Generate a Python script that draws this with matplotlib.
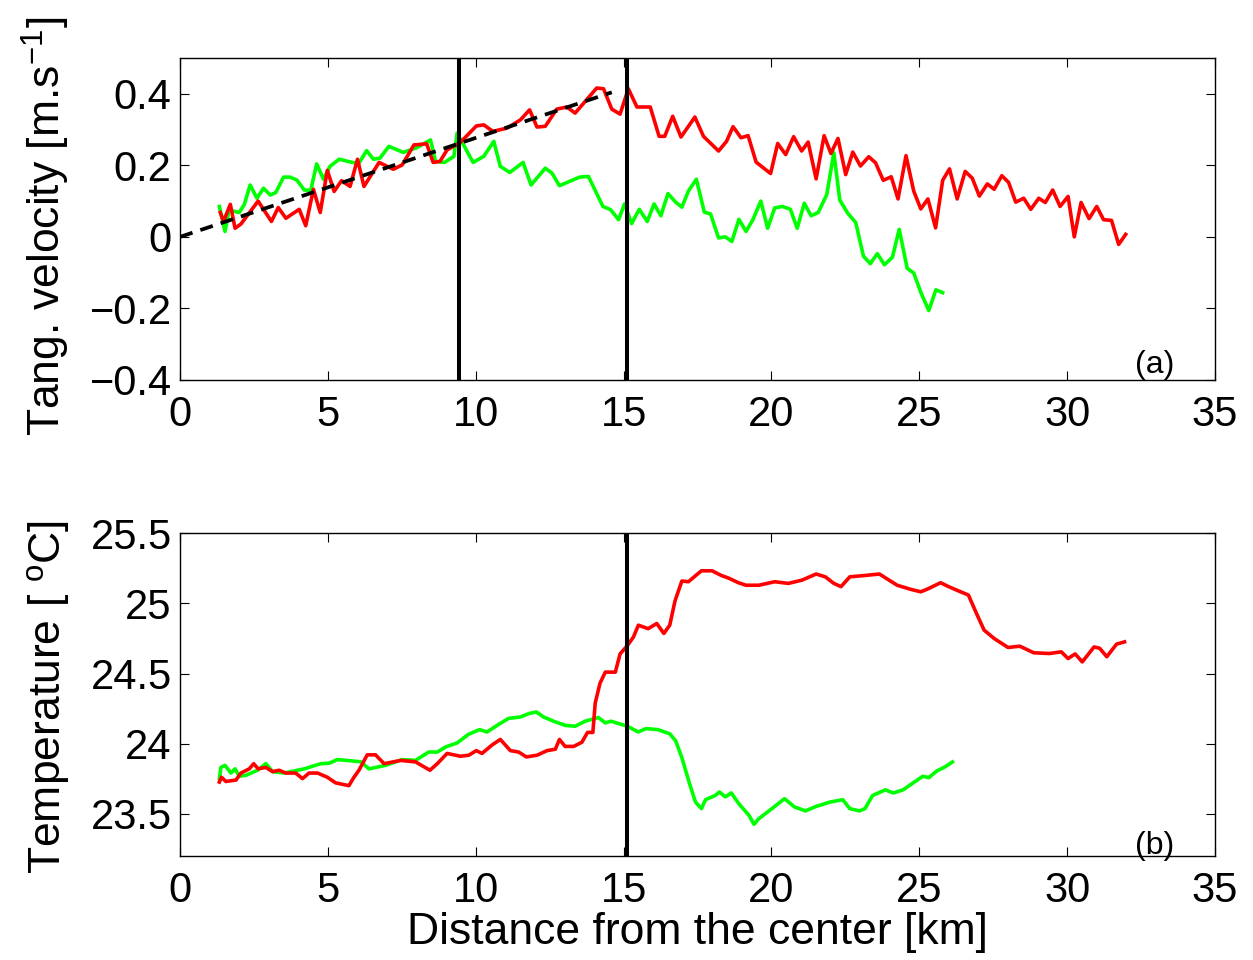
import numpy as np
import matplotlib
matplotlib.use('Agg')
import matplotlib.pyplot as plt

plt.rcParams['font.family'] = ['Liberation Sans', 'DejaVu Sans']
plt.rcParams['mathtext.fontset'] = 'custom'
plt.rcParams['mathtext.rm'] = 'Liberation Sans'
plt.rcParams['mathtext.it'] = 'Liberation Sans'

# (a) tangential velocity, red section
vel_red_x = [1.36, 1.47, 1.70, 1.86, 2.06, 2.64, 3.09, 3.32, 3.58, 4.03, 4.25, 4.51, 4.74, 4.98,
             5.21, 5.46, 5.75, 6.00, 6.22, 6.73, 7.21, 7.51, 7.91, 8.34, 8.56, 8.79, 9.03, 9.48,
             10.02, 10.27, 10.58, 11.06, 11.51, 11.82, 12.07, 12.35, 12.74, 13.08, 13.36, 14.09,
             14.32, 14.60, 14.88, 15.16, 15.45, 15.90, 16.20, 16.39, 16.66, 16.94, 17.41, 17.70,
             18.21, 18.48, 18.70, 18.97, 19.21, 19.48, 19.97, 20.21, 20.48, 20.75, 21.02, 21.24,
             21.51, 21.78, 22.01, 22.25, 22.51, 22.75, 23.01, 23.29, 23.52, 23.78, 24.05, 24.28,
             24.55, 24.81, 25.05, 25.29, 25.55, 25.79, 26.02, 26.28, 26.55, 26.79, 27.03, 27.30,
             27.53, 27.79, 28.02, 28.26, 28.53, 28.77, 29.04, 29.26, 29.51, 29.76, 30.03, 30.24,
             30.47, 30.74, 31.00, 31.23, 31.50, 31.74, 31.98]
vel_red = [0.068, 0.043, 0.091, 0.024, 0.036, 0.100, 0.043, 0.082, 0.052, 0.077, 0.031, 0.133,
           0.068, 0.186, 0.127, 0.157, 0.141, 0.217, 0.141, 0.208, 0.189, 0.201, 0.257, 0.260,
           0.208, 0.211, 0.243, 0.264, 0.310, 0.313, 0.295, 0.304, 0.327, 0.355, 0.307, 0.309,
           0.357, 0.363, 0.346, 0.416, 0.414, 0.357, 0.343, 0.414, 0.363, 0.363, 0.281, 0.281,
           0.337, 0.279, 0.335, 0.281, 0.240, 0.267, 0.308, 0.277, 0.283, 0.209, 0.177, 0.261,
           0.230, 0.280, 0.240, 0.265, 0.162, 0.283, 0.233, 0.275, 0.174, 0.237, 0.198, 0.224,
           0.207, 0.158, 0.168, 0.106, 0.227, 0.128, 0.078, 0.106, 0.025, 0.158, 0.190, 0.106,
           0.183, 0.164, 0.114, 0.148, 0.133, 0.171, 0.152, 0.097, 0.108, 0.077, 0.108, 0.096,
           0.131, 0.085, 0.113, 0.000, 0.096, 0.051, 0.085, 0.048, 0.046, -0.021, 0.007]

# (a) tangential velocity, green section
vel_green_x = [1.33, 1.52, 1.66, 2.00, 2.17, 2.37, 2.60, 2.82, 3.05, 3.24, 3.50, 3.72, 3.95, 4.20,
               4.42, 4.62, 4.85, 5.07, 5.38, 5.83, 6.05, 6.31, 6.54, 6.76, 7.06, 7.55, 8.02, 8.47,
               8.64, 8.94, 9.26, 9.37, 9.91, 10.27, 10.61, 10.83, 11.15, 11.60, 11.87, 12.35,
               12.58, 12.83, 13.51, 13.81, 14.30, 14.56, 14.83, 15.03, 15.27, 15.53, 15.80, 16.03,
               16.26, 16.50, 16.76, 16.97, 17.19, 17.46, 17.73, 17.94, 18.21, 18.44, 18.66, 18.90,
               19.14, 19.37, 19.64, 19.87, 20.11, 20.37, 20.64, 20.87, 21.11, 21.34, 21.58, 21.87,
               22.11, 22.31, 22.58, 22.85, 23.11, 23.34, 23.58, 23.82, 24.09, 24.32, 24.59, 24.81,
               25.05, 25.32, 25.56, 25.79]
vel_green = [0.085, 0.015, 0.075, 0.068, 0.090, 0.145, 0.108, 0.136, 0.117, 0.124, 0.167, 0.167,
             0.159, 0.131, 0.130, 0.204, 0.161, 0.197, 0.217, 0.208, 0.206, 0.241, 0.217, 0.220,
             0.253, 0.236, 0.250, 0.271, 0.211, 0.208, 0.225, 0.290, 0.208, 0.225, 0.267, 0.197,
             0.180, 0.208, 0.145, 0.192, 0.178, 0.143, 0.167, 0.169, 0.085, 0.076, 0.048, 0.092,
             0.037, 0.077, 0.043, 0.092, 0.059, 0.121, 0.097, 0.083, 0.128, 0.161, 0.069, 0.064,
             -0.003, 0.000, -0.013, 0.049, 0.015, 0.048, 0.100, 0.024, 0.081, 0.085, 0.077, 0.024,
             0.094, 0.059, 0.068, 0.118, 0.235, 0.103, 0.066, 0.040, -0.054, -0.075, -0.047,
             -0.078, -0.057, 0.021, -0.088, -0.101, -0.155, -0.206, -0.148, -0.156]

# solid-body fit (dashed)
fit_x = [0.0, 14.6]
fit_y = [0.0, 0.404]

# (b) temperature, red section
temp_red_x = [1.33, 1.40, 1.55, 1.89, 2.06, 2.34, 2.49, 2.64, 2.90, 3.13, 3.35, 3.58, 3.91, 4.14,
              4.36, 4.65, 4.98, 5.26, 5.71, 5.88, 6.05, 6.33, 6.61, 6.90, 7.46, 7.96, 8.45, 8.70,
              9.03, 9.48, 9.76, 10.02, 10.21, 10.55, 10.83, 11.17, 11.45, 11.71, 12.07, 12.41,
              12.69, 12.83, 13.02, 13.31, 13.59, 13.78, 13.96, 14.04, 14.20, 14.38, 14.72, 14.88,
              15.13, 15.33, 15.50, 15.83, 16.12, 16.36, 16.56, 16.74, 16.97, 17.19, 17.63, 17.99,
              18.30, 18.56, 18.88, 19.14, 19.57, 20.11, 20.57, 21.04, 21.51, 21.82, 22.11, 22.35,
              22.65, 23.18, 23.65, 24.25, 24.72, 25.05, 25.32, 25.72, 25.99, 26.32, 26.66, 26.93,
              27.19, 27.53, 28.00, 28.40, 28.87, 29.40, 29.80, 30.03, 30.27, 30.51, 30.91, 31.10,
              31.34, 31.67, 31.94]
temp_red = [23.726, 23.76, 23.73, 23.74, 23.79, 23.82, 23.857, 23.82, 23.83, 23.80, 23.81, 23.79,
            23.79, 23.75, 23.79, 23.79, 23.76, 23.72, 23.70, 23.76, 23.81, 23.92, 23.92, 23.857,
            23.88, 23.87, 23.81, 23.857, 23.93, 23.91, 23.917, 23.95, 23.93, 23.99, 24.03, 23.95,
            23.94, 23.905, 23.917, 23.95, 23.96, 24.03, 23.98, 23.98, 24.01, 24.08, 24.08, 24.29,
            24.43, 24.51, 24.51, 24.64, 24.70, 24.76, 24.845, 24.82, 24.857, 24.786, 24.845,
            25.02, 25.16, 25.155, 25.233, 25.233, 25.20, 25.18, 25.148, 25.13, 25.13, 25.155,
            25.143, 25.167, 25.21, 25.19, 25.143, 25.12, 25.19, 25.20, 25.21, 25.13, 25.10,
            25.083, 25.107, 25.148, 25.12, 25.09, 25.06, 24.93, 24.81, 24.75, 24.686, 24.695,
            24.648, 24.643, 24.655, 24.607, 24.64, 24.583, 24.69, 24.68, 24.62, 24.71, 24.726]

# (b) temperature, green section
temp_green_x = [1.33, 1.38, 1.52, 1.72, 1.86, 2.00, 2.23, 2.62, 2.90, 3.13, 3.52, 4.20, 4.76, 5.04,
                5.32, 5.66, 6.11, 6.39, 6.95, 7.51, 7.96, 8.41, 8.70, 8.98, 9.37, 9.76, 10.13,
                10.38, 10.78, 11.11, 11.51, 11.79, 12.05, 12.29, 12.63, 13.03, 13.36, 13.70,
                14.15, 14.38, 14.57, 15.13, 15.49, 15.76, 16.16, 16.56, 16.76, 16.97, 17.23,
                17.43, 17.63, 17.77, 18.10, 18.24, 18.44, 18.64, 18.90, 19.24, 19.41, 19.57,
                19.97, 20.44, 20.78, 21.15, 21.51, 21.98, 22.41, 22.65, 22.98, 23.16, 23.42,
                23.85, 24.12, 24.45, 24.79, 25.12, 25.32, 25.59, 25.86, 26.12]
temp_green = [23.75, 23.83, 23.845, 23.79, 23.82, 23.767, 23.774, 23.81, 23.857, 23.80, 23.79,
              23.82, 23.857, 23.86, 23.886, 23.88, 23.87, 23.82, 23.845, 23.886, 23.88, 23.94,
              23.94, 23.976, 24.005, 24.067, 24.10, 24.083, 24.138, 24.18, 24.19, 24.214, 24.226,
              24.19, 24.16, 24.13, 24.124, 24.16, 24.186, 24.148, 24.16, 24.124, 24.083, 24.107,
              24.10, 24.07, 24.02, 23.90, 23.714, 23.583, 23.536, 23.60, 23.63, 23.655, 23.62,
              23.648, 23.57, 23.488, 23.424, 23.464, 23.529, 23.607, 23.548, 23.52, 23.552,
              23.583, 23.60, 23.536, 23.52, 23.536, 23.63, 23.67, 23.648, 23.67, 23.72, 23.767,
              23.757, 23.805, 23.833, 23.869]

vlines_a = [9.44, 15.13]
vlines_b = [15.13]

fig = plt.figure(figsize=(12.53, 9.6), dpi=100)
ax1 = fig.add_axes([0.1437, 0.6042, 0.826, 0.3354])
ax2 = fig.add_axes([0.1437, 0.1086, 0.826, 0.3358])

lw = 2.6
fs = 30
for ax in (ax1, ax2):
    ax.tick_params(direction='in', length=6.5, width=0.8, top=True, right=True,
                   labelsize=fs)
    ax.tick_params(axis='x', pad=11)
    ax.tick_params(axis='y', pad=6)
    for s in ax.spines.values():
        s.set_linewidth(1.0)
    ax.set_xlim(0, 35)
    ax.set_xticks([0, 5, 10, 15, 20, 25, 30, 35])

ax1.plot(vel_green_x, vel_green, color=(0, 1, 0), lw=lw)
ax1.plot(vel_red_x, vel_red, color=(1, 0, 0), lw=lw)
ax1.plot(fit_x, fit_y, color='k', lw=2.7, ls=(0, (3.5, 2.2)))
for xv in vlines_a:
    ax1.axvline(xv, color='k', lw=2.9)
ax1.set_ylim(-0.4, 0.5)
ax1.set_yticks([-0.4, -0.2, 0, 0.2, 0.4])
ax1.set_yticklabels(['\u22120.4', '\u22120.2', '0', '0.2', '0.4'])
ax1.set_ylabel('Tang. velocity [m.s$^{-1}$]', fontsize=32)
ax1.yaxis.set_label_coords(-0.104, 0.478)
ax1.text(0.942, 0.0, '(a)', transform=ax1.transAxes, fontsize=23,
         ha='center', va='bottom')

ax2.plot(temp_green_x, temp_green, color=(0, 1, 0), lw=lw)
ax2.plot(temp_red_x, temp_red, color=(1, 0, 0), lw=lw)
for xv in vlines_b:
    ax2.axvline(xv, color='k', lw=2.9)
ax2.set_ylim(23.2, 25.5)
ax2.set_yticks([23.5, 24, 24.5, 25, 25.5])
ax2.set_yticklabels(['23.5', '24', '24.5', '25', '25.5'])
ax2.set_ylabel('Temperature [ $^{\\rm o}$C]', fontsize=32)
ax2.yaxis.set_label_coords(-0.104, 0.492)
ax2.set_xlabel('Distance from the center [km]', fontsize=32, labelpad=1)
ax2.text(0.942, -0.015, '(b)', transform=ax2.transAxes, fontsize=23,
         ha='center', va='bottom')

fig.savefig('out.png', dpi=100)
